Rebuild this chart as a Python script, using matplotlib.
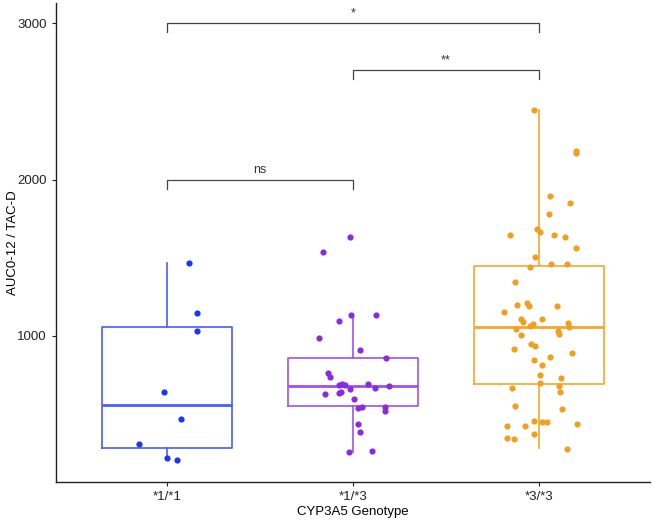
import matplotlib
matplotlib.use("Agg")
from matplotlib import pyplot as plt

plt.rcParams['font.family'] = ['Liberation Sans', 'DejaVu Sans']

# genotype groups
groups = ["*1/*1", "*1/*3", "*3/*3"]
colors = ["#1f33ff", "#8a2be2", "#f0a020"]
box_colors = ["#4a5cff", "#9d52ec", "#f3a82a"]

# box stats: whislo, q1, med, q3, whishi
box_11 = [229, 286, 557, 1059, 1465]
box_13 = [259, 553, 681, 861, 1136]
box_33 = [282, 695, 1056, 1445, 2442]

# jittered points (x position, value)
x_11 = [1.115, 1.16, 1.16, 0.982, 1.075, 0.847, 1.0, 1.054]
y_11 = [1465, 1147, 1030, 640, 472, 310, 219, 206]

x_13 = [1.982, 1.838, 1.99, 2.122, 1.925, 1.815, 2.036, 2.18, 1.864, 1.878,
        1.941, 2.081, 1.923, 1.959, 2.192, 2.117, 1.982, 1.938, 1.923, 1.851,
        2.008, 2.049, 2.175, 2.026, 2.171, 2.026, 2.04, 2.101, 1.981]
y_13 = [1631, 1539, 1136, 1136, 1098, 985, 909, 861, 766, 740,
        693, 693, 687, 687, 681, 670, 661, 644, 634, 627,
        596, 548, 548, 538, 519, 436, 389, 267, 259]

x_33 = [2.977, 3.202, 3.204, 3.062, 3.171, 3.057, 2.992, 3.01, 2.844, 3.081,
        3.143, 3.202, 2.983, 3.064, 3.152, 2.954, 2.873, 2.938, 2.95, 2.886,
        2.816, 3.101, 2.906, 2.918, 3.017, 2.952, 2.97, 3.159, 3.164, 2.88,
        3.103, 3.11, 2.906, 2.961, 2.979, 2.87, 3.06, 3.182, 2.974, 3.019,
        3.008, 3.119, 3.01, 3.11, 2.856, 3.116, 2.873, 3.127, 2.976, 3.019,
        3.044, 3.207, 2.827, 2.927, 2.827, 2.868, 2.976, 3.152]
y_33 = [2442, 2182, 2170, 1897, 1848, 1782, 1686, 1665, 1645, 1645,
        1635, 1560, 1503, 1460, 1460, 1439, 1347, 1211, 1190, 1196,
        1155, 1190, 1107, 1092, 1107, 1066, 1077, 1081, 1059, 1047,
        1032, 1015, 1008, 951, 938, 916, 868, 893, 847, 815,
        751, 734, 698, 682, 670, 642, 555, 532, 455, 449,
        449, 440, 425, 423, 350, 340, 372, 280]

# comparisons: (from, to, height, label)
comparisons = [(1, 3, 3000, "*"), (2, 3, 2700, "**"), (1, 2, 2000, "ns")]

fig = plt.figure(figsize=(6.53, 5.2), dpi=100)
ax = fig.add_axes([56 / 653, 38 / 520, 594 / 653, 479 / 520])

boxes = [box_11, box_13, box_33]
points = [(x_11, y_11), (x_13, y_13), (x_33, y_33)]
for i, b in enumerate(boxes):
    st = dict(whislo=b[0], q1=b[1], med=b[2], q3=b[3], whishi=b[4], fliers=[])
    ax.bxp([st], positions=[i + 1], widths=0.7, showfliers=False, showcaps=False,
           boxprops=dict(color=box_colors[i], linewidth=1.2),
           whiskerprops=dict(color=box_colors[i], linewidth=1.2),
           medianprops=dict(color=box_colors[i], linewidth=2.0),
           manage_ticks=False)
    ax.scatter(points[i][0], points[i][1], s=20, color=colors[i], zorder=3, linewidths=0)

for a, b, h, lab in comparisons:
    ax.plot([a, a, b, b], [h - 58, h, h, h - 58], color="#444444", linewidth=0.9)
    ax.text((a + b) / 2, h + 25, lab, ha="center", va="bottom", fontsize=9, color="#333333")

ax.set_xlim(0.4, 3.6)
ax.set_ylim(67, 3128)
ax.set_xticks([1, 2, 3])
ax.set_xticklabels(groups)
ax.set_yticks([1000, 2000, 3000])
ax.tick_params(labelsize=9.5, colors="#222222", length=3)
for s in ["top", "right"]:
    ax.spines[s].set_visible(False)
for s in ["left", "bottom"]:
    ax.spines[s].set_linewidth(1.0)
    ax.spines[s].set_color("#222222")
ax.set_xlabel("CYP3A5 Genotype", fontsize=9.5, labelpad=2)
ax.set_ylabel("AUC0-12 / TAC-D", fontsize=9.5)
ax.yaxis.set_label_coords(-0.062, 0.5)

plt.savefig("out.png", dpi=100)
